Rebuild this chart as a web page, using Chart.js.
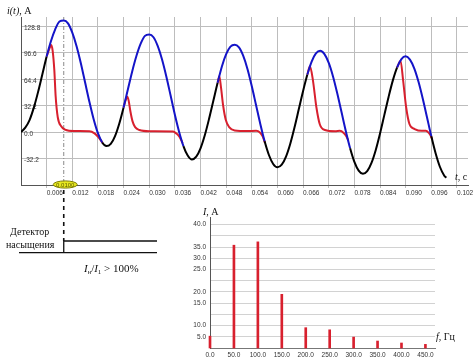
<!DOCTYPE html>
<html>
<head>
<meta charset="utf-8">
<script src="https://cdn.jsdelivr.net/npm/chart.js@4.4.1/dist/chart.umd.min.js"></script>
<style>
  html, body { margin: 0; padding: 0; background: #fff; overflow: hidden; }
  body { width: 474px; height: 362px; position: relative; }
  #wave { position: absolute; left: 0; top: 0; }
  #spectrum { position: absolute; left: 180px; top: 205px; }
</style>
</head>
<body>
<canvas id="wave" width="490" height="362"></canvas>
<canvas id="spectrum" width="294" height="157"></canvas>
<script>
// primary current i(t), A  (sampled every 1 ms)
const tPrimary = [0, 0.001, 0.002, 0.003, 0.004, 0.005, 0.006, 0.007, 0.008, 0.009,
  0.010, 0.011, 0.012, 0.013, 0.014, 0.015, 0.016, 0.017, 0.018, 0.019,
  0.020, 0.021, 0.022, 0.023, 0.024, 0.025, 0.026, 0.027, 0.028, 0.029,
  0.030, 0.031, 0.032, 0.033, 0.034, 0.035, 0.036, 0.037, 0.038, 0.039,
  0.040, 0.041, 0.042, 0.043, 0.044, 0.045, 0.046, 0.047, 0.048, 0.049,
  0.050, 0.051, 0.052, 0.053, 0.054, 0.055, 0.056, 0.057, 0.058, 0.059,
  0.060, 0.061, 0.062, 0.063, 0.064, 0.065, 0.066, 0.067, 0.068, 0.069,
  0.070, 0.071, 0.072, 0.073, 0.074, 0.075, 0.076, 0.077, 0.078, 0.079,
  0.080, 0.081, 0.082, 0.083, 0.084, 0.085, 0.086, 0.087, 0.088, 0.089,
  0.090, 0.091, 0.092, 0.093, 0.094, 0.095, 0.096, 0.097, 0.098, 0.099, 0.0995];
const iPrimary = [0, 5.4, 14.6, 29.7, 48.9, 70.4, 91.9, 110.5, 125.0, 134.5,
  135.8, 132.3, 121.0, 104.5, 83.8, 60.3, 36.9, 15.6, -1.4, -12.7,
  -17.1, -14.4, -4.9, 10.5, 30.0, 51.7, 73.5, 92.5, 107.5, 117.0,
  118.8, 115.4, 104.5, 88.2, 67.6, 44.4, 21.1, 0.1, -17.0, -28.6,
  -33.5, -30.0, -19.8, -3.9, 16.1, 38.0, 60.0, 79.8, 94.8, 104.0,
  106.3, 103.0, 92.6, 76.5, 55.7, 32.6, 9.6, -11.3, -27.9, -38.8,
  -42.8, -39.7, -29.8, -14.1, 5.9, 28.0, 50.1, 70.0, 85.8, 95.7,
  98.9, 94.9, 84.2, 67.7, 46.9, 24.0, 1.1, -19.6, -36.2, -46.9,
  -50.8, -47.6, -37.5, -21.7, -1.7, 20.6, 42.8, 62.9, 78.7, 88.8,
  92.1, 88.2, 77.5, 61.1, 40.5, 17.7, -5.2, -25.8, -42.2, -52.8, -55.6];

// secondary (saturated CT) current where it leaves the primary; null = break
const tSecondary = [0.0060, 0.0066, 0.0071, 0.0074, 0.0078, 0.0081, 0.0086, 0.0094, 0.0103, 0.0125, 0.0160, 0.0172, 0.0181, 0.0191, 0.021,
  0.0240, 0.0245, 0.0249, 0.0252, 0.0256, 0.0261, 0.0267, 0.0277, 0.0300, 0.0356, 0.0364, 0.0371, 0.0378, 0.040,
  0.0460, 0.0464, 0.0468, 0.0473, 0.0479, 0.0487, 0.0500, 0.0530, 0.0550, 0.0559, 0.0565, 0.0571, 0.060,
  0.0670, 0.0676, 0.0683, 0.0691, 0.0699, 0.0711, 0.0735, 0.0746, 0.0755, 0.0761, 0.0766, 0.080,
  0.0880, 0.0888, 0.0894, 0.0901, 0.0909, 0.0921, 0.0937, 0.0947, 0.0954, 0.0958, 0.0962];
const iSecondary = [91.9, 101, 106, 99, 75, 44, 18, 7, 3, 1.2, 1, -1.5, -6, -13.2, null,
  30, 39, 43, 38, 25, 13, 6, 2.5, 1, 0.8, -2, -6, -13.4, null,
  60, 68, 54, 32, 15, 6, 2, 1.2, 1.5, -0.5, -5, -13.2, null,
  70, 80, 63, 30.5, 9.5, 2.5, 1, 1.5, -1, -5, -10.5, null,
  78.7, 86.5, 63, 30.5, 9.5, 3.7, 1.5, 1.5, -1, -4, -8.5];

const yTicks = [-32.2, 0, 32.2, 64.4, 96.6, 128.8];
const xTicks = [0.006, 0.012, 0.018, 0.024, 0.030, 0.036, 0.042, 0.048, 0.054, 0.060,
  0.066, 0.072, 0.078, 0.084, 0.090, 0.096, 0.102];
const markerT = 0.0100;

// spectrum
const freqHz = [0, 50, 100, 150, 200, 250, 300, 350, 400, 450];
const amplA = [3.9, 33.9, 35.0, 17.7, 6.7, 6.0, 3.6, 2.3, 1.65, 1.2];
const specGridStep = 3.7;
const specTickLabels = ['5.0', '10.0', '', '15.0', '20.0', '', '25.0', '30.0', '35.0', '', '40.0'];

const BLUE = '#1414c8';
const RED = '#d8202e';
const GRID = '#bdbdbd';
const AXIS = '#555';
const TICK_TXT = '#333';
const SANS = "'Liberation Sans', Arial, sans-serif";
const SERIF = "'Liberation Serif', 'Times New Roman', serif";

Chart.defaults.font.family = SANS;

// spans where the primary is drawn in blue (secondary departs from it)
const blueSpans = [];
let runStart = null;
tSecondary.forEach(function(t, k) {
  const v = iSecondary[k];
  if (v !== null && runStart === null) runStart = t;
  const last = k === tSecondary.length - 1;
  if ((v === null || last) && runStart !== null) {
    blueSpans.push([runStart, v === null ? tSecondary[k - 1] : t]);
    runStart = null;
  }
});

function drawText(ctx, parts, x, y) {
  // parts: [text, font, dy]
  parts.forEach(function(p) {
    ctx.font = p[1];
    ctx.fillText(p[0], x, y + (p[2] || 0));
    x += ctx.measureText(p[0]).width;
  });
}

const waveExtras = {
  id: 'waveExtras',
  beforeDatasetsDraw(chart) {
    const ctx = chart.ctx, area = chart.chartArea;
    const mx = chart.scales.x.getPixelForValue(markerT);
    ctx.save();
    ctx.strokeStyle = '#8a8a8a';
    ctx.lineWidth = 1;
    ctx.setLineDash([4, 2, 1, 2]);
    ctx.beginPath();
    ctx.moveTo(mx, area.top);
    ctx.lineTo(mx, area.bottom);
    ctx.stroke();
    ctx.restore();
  },
  afterDraw(chart) {
    const ctx = chart.ctx, area = chart.chartArea;
    const mx = chart.scales.x.getPixelForValue(markerT);
    ctx.save();
    ctx.fillStyle = '#111';
    ctx.textBaseline = 'alphabetic';
    drawText(ctx, [['i(t)', 'italic 10px ' + SERIF], [', A', '10px ' + SERIF]], 7, 14);
    drawText(ctx, [['t', 'italic 10px ' + SERIF], [', c', '10px ' + SERIF]], 455, 180);

    // black dashed marker down to the detector
    ctx.strokeStyle = '#111';
    ctx.lineWidth = 1.6;
    ctx.setLineDash([4, 4]);
    ctx.beginPath();
    ctx.moveTo(mx, area.bottom + 5);
    ctx.lineTo(mx, 241);
    ctx.stroke();
    ctx.setLineDash([]);

    // marker oval
    ctx.beginPath();
    ctx.ellipse(mx + 1.5, area.bottom - 0.5, 12, 3.6, 0, 0, Math.PI * 2);
    ctx.fillStyle = '#e8e820';
    ctx.fill();
    ctx.strokeStyle = '#7d7d00';
    ctx.lineWidth = 1;
    ctx.stroke();
    ctx.fillStyle = '#5a5a00';
    ctx.font = '6px ' + SANS;
    ctx.textAlign = 'center';
    ctx.textBaseline = 'middle';
    ctx.fillText(markerT.toFixed(4), mx + 1.5, area.bottom);

    // saturation detector
    ctx.strokeStyle = '#111';
    ctx.lineWidth = 1.3;
    ctx.beginPath();
    ctx.moveTo(19, 252.7);
    ctx.lineTo(157, 252.7);
    ctx.moveTo(mx, 252.7);
    ctx.lineTo(mx, 241);
    ctx.lineTo(157, 241);
    ctx.stroke();
    ctx.fillStyle = '#111';
    ctx.textAlign = 'left';
    ctx.textBaseline = 'alphabetic';
    ctx.font = '10px ' + SERIF;
    ctx.fillText('Детектор', 10, 235);
    ctx.fillText('насыщения', 6, 247.5);
    drawText(ctx, [
      ['I', 'italic 11px ' + SERIF], ['н', 'italic 7px ' + SERIF, 2],
      ['/', '11px ' + SERIF],
      ['I', 'italic 11px ' + SERIF], ['1', '7px ' + SERIF, 2],
      [' > 100%', '11px ' + SERIF]
    ], 84, 272);
    ctx.restore();
  }
};

new Chart(document.getElementById('wave'), {
  type: 'line',
  data: {
    datasets: [{
      data: tPrimary.map(function(t, k) { return { x: t, y: iPrimary[k] }; }),
      borderColor: '#000',
      borderWidth: 2,
      pointRadius: 0,
      cubicInterpolationMode: 'monotone',
      segment: {
        borderColor: function(c) {
          const m = (c.p0.parsed.x + c.p1.parsed.x) / 2;
          return blueSpans.some(function(s) { return m > s[0] && m < s[1]; }) ? BLUE : '#000';
        }
      }
    }, {
      data: tSecondary.map(function(t, k) { return { x: t, y: iSecondary[k] }; }),
      borderColor: RED,
      borderWidth: 2,
      pointRadius: 0,
      spanGaps: false,
      cubicInterpolationMode: 'monotone'
    }]
  },
  options: {
    responsive: false,
    animation: false,
    layout: { padding: { left: 21, top: 17, right: 22, bottom: 165 } },
    plugins: { legend: { display: false }, tooltip: { enabled: false } },
    scales: {
      x: {
        type: 'linear', min: 0, max: 0.10458,
        grid: { color: GRID, tickLength: 3, tickColor: GRID },
        border: { color: AXIS },
        ticks: { color: TICK_TXT, font: { size: 6.5 }, align: 'start', padding: 1, maxRotation: 0, autoSkip: false,
          callback: function(v) { return v.toFixed(3); } },
        afterBuildTicks: function(s) { s.ticks = xTicks.map(function(v) { return { value: v }; }); },
        afterFit: function(s) { s.height = 12; }
      },
      y: {
        min: -64.4, max: 140,
        grid: { color: GRID, drawTicks: false },
        border: { color: AXIS },
        ticks: { color: TICK_TXT, font: { size: 6.5 }, mirror: true, padding: 3, labelOffset: 2,
          callback: function(v) { return v.toFixed(1); } },
        afterBuildTicks: function(s) { s.ticks = yTicks.map(function(v) { return { value: v }; }); },
        afterFit: function(s) { s.width = 0; }
      }
    }
  },
  plugins: [waveExtras]
});

const specExtras = {
  id: 'specExtras',
  afterDraw(chart) {
    const ctx = chart.ctx, area = chart.chartArea;
    ctx.save();
    ctx.fillStyle = '#111';
    drawText(ctx, [['I', 'italic 10px ' + SERIF], [', A', '10px ' + SERIF]], area.left - 7, 10);
    drawText(ctx, [['f', 'italic 10px ' + SERIF], [', Гц', '10px ' + SERIF]], area.right + 1, 135);
    ctx.restore();
  }
};

new Chart(document.getElementById('spectrum'), {
  type: 'bar',
  data: {
    datasets: [{
      data: freqHz.map(function(f, k) { return { x: f, y: amplA[k] }; }),
      backgroundColor: RED,
      barThickness: 2,
      clip: false
    }]
  },
  options: {
    responsive: false,
    animation: false,
    layout: { padding: { left: 0, top: 12, right: 39, bottom: 4 } },
    plugins: { legend: { display: false }, tooltip: { enabled: false } },
    scales: {
      x: {
        type: 'linear', min: 0, max: 470, offset: false,
        grid: { display: false, drawTicks: false, offset: false },
        border: { color: '#777' },
        ticks: { color: TICK_TXT, font: { size: 6.5 }, padding: 3, maxRotation: 0, autoSkip: false,
          callback: function(v) { return v.toFixed(1); } },
        afterBuildTicks: function(s) { s.ticks = freqHz.map(function(v) { return { value: v }; }); },
        afterFit: function(s) { s.height = 10; }
      },
      y: {
        min: 0, max: 43.2,
        grid: { color: '#d2d2d2', drawTicks: false },
        border: { color: AXIS },
        ticks: { color: TICK_TXT, font: { size: 6.5 }, padding: 4,
          callback: function(v, k) { return specTickLabels[k]; } },
        afterBuildTicks: function(s) {
          s.ticks = specTickLabels.map(function(l, k) { return { value: specGridStep * (k + 1) }; });
        },
        afterFit: function(s) { s.width = 30; }
      }
    }
  },
  plugins: [specExtras]
});
</script>
</body>
</html>
